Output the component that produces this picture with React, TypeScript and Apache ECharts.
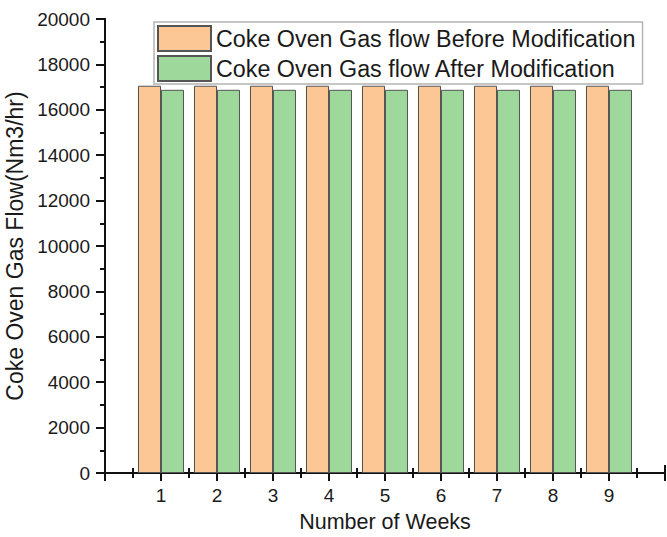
import React, { useEffect, useRef } from "react";
import * as echarts from "echarts";

const weeks = [1, 2, 3, 4, 5, 6, 7, 8, 9];
const beforeFlow = [17060, 17060, 17060, 17060, 17060, 17060, 17060, 17060, 17060];
const afterFlow = [16880, 16880, 16880, 16880, 16880, 16880, 16880, 16880, 16880];
const seriesNames = [
  "Coke Oven Gas flow Before Modification",
  "Coke Oven Gas flow After Modification",
];

const FONT = "Liberation Sans, Arial, sans-serif";
const TXT = "#1a1a1a";

export default function App() {
  const ref = useRef<HTMLDivElement>(null);
  useEffect(() => {
    if (!ref.current) return;
    const chart = echarts.init(ref.current, undefined, { renderer: "svg" });
    const axisLine = { show: true, lineStyle: { color: "#111", width: 2 } };
    const tickStyle = { color: "#111", width: 2 };
    chart.setOption({
      animation: false,
      textStyle: { fontFamily: FONT },
      grid: { left: 105, right: 2, top: 19, bottom: 64, containLabel: false, outerBoundsMode: "none" },
      legend: {
        orient: "vertical",
        left: 154,
        top: 22,
        padding: [3, 7, 2, 3],
        itemGap: 3,
        itemWidth: 53,
        itemHeight: 25,
        icon: "rect",
        borderColor: "#b4b4b4",
        borderWidth: 1.5,
        backgroundColor: "#fff",
        textStyle: { fontSize: 23.3, color: TXT, fontFamily: FONT },
        data: seriesNames,
      },
      xAxis: [
        {
          type: "value",
          min: 0,
          max: 10,
          interval: 1,
          name: "Number of Weeks",
          nameLocation: "middle",
          nameGap: 38,
          nameTextStyle: { fontSize: 21.5, color: TXT, fontFamily: FONT, lineHeight: 22 },
          axisLine,
          axisTick: { show: true, length: 8, lineStyle: tickStyle },
          minorTick: { show: true, splitNumber: 2, length: 5, lineStyle: tickStyle },
          splitLine: { show: false },
          axisLabel: {
            fontSize: 19,
            color: TXT,
            margin: 13,
            fontFamily: FONT,
            formatter: (v: number) => (v >= 1 && v <= 9 ? String(v) : ""),
          },
        },
        {
          type: "value",
          position: "top",
          min: 0,
          max: 10,
          interval: 1,
          axisLine,
          axisTick: { show: true, length: 8, lineStyle: tickStyle },
          minorTick: { show: true, splitNumber: 2, length: 5, lineStyle: tickStyle },
          splitLine: { show: false },
          axisLabel: { show: false },
        },
      ],
      yAxis: [
        {
          type: "value",
          min: 0,
          max: 20000,
          interval: 2000,
          name: "Coke Oven Gas Flow(Nm3/hr)",
          nameLocation: "middle",
          nameGap: 70,
          nameTextStyle: { fontSize: 23, color: TXT, fontFamily: FONT },
          axisLine,
          axisTick: { show: true, length: 9, lineStyle: tickStyle },
          minorTick: { show: true, splitNumber: 2, length: 5, lineStyle: tickStyle },
          splitLine: { show: false },
          axisLabel: {
            fontSize: 19,
            color: TXT,
            margin: 15,
            fontFamily: FONT,
            formatter: (v: number) => String(v),
          },
        },
        {
          type: "value",
          position: "right",
          min: 0,
          max: 20000,
          interval: 2000,
          axisLine,
          axisTick: { show: false },
          splitLine: { show: false },
          axisLabel: { show: false },
        },
      ],
      series: [
        {
          name: seriesNames[0],
          type: "bar",
          xAxisIndex: 0,
          yAxisIndex: 0,
          barWidth: 23,
          barGap: "0%",
          itemStyle: { color: "#fcc795", borderColor: "#555", borderWidth: 1 },
          data: weeks.map((w, i) => [w, beforeFlow[i]]),
        },
        {
          name: seriesNames[1],
          type: "bar",
          xAxisIndex: 0,
          yAxisIndex: 0,
          barWidth: 23,
          barGap: "0%",
          itemStyle: { color: "#9ed89a", borderColor: "#555", borderWidth: 1 },
          data: weeks.map((w, i) => [w, afterFlow[i]]),
        },
      ],
    });
    return () => chart.dispose();
  }, []);
  return <div ref={ref} style={{ width: 667, height: 537, position: "fixed", left: 0, top: 0, background: "#fff" }} />;
}
